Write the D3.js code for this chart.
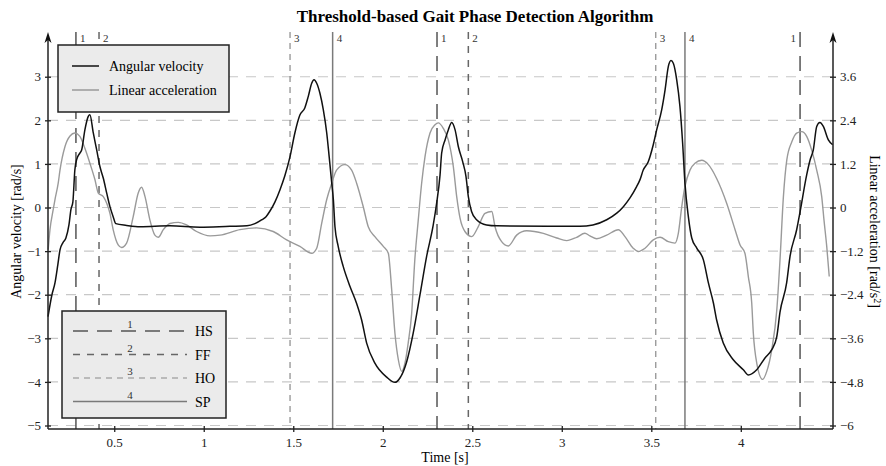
<!DOCTYPE html>
<html>
<head>
<meta charset="utf-8">
<script src="https://cdn.jsdelivr.net/npm/d3@7"></script>
<style>
  body { margin: 0; background: #fff; }
  svg { font-family: "Liberation Serif", "DejaVu Serif", serif; }
</style>
</head>
<body>
<svg id="chart" width="886" height="466"></svg>
<script>
// angular velocity [rad/s]: [time, value]
var angVel = [
  [0.13,-2.5],[0.152,-2.0],[0.169,-1.73],[0.185,-1.31],[0.197,-0.97],[0.213,-0.81],[0.23,-0.7],
  [0.247,-0.4],[0.258,-0.05],[0.269,0.13],[0.28,0.86],[0.29,1.1],[0.308,1.25],[0.318,1.32],
  [0.336,1.78],[0.355,2.09],[0.364,2.13],[0.383,1.71],[0.402,1.32],[0.42,0.94],[0.439,0.67],
  [0.458,0.33],[0.476,0.02],[0.494,-0.21],[0.509,-0.37],[0.569,-0.41],[0.644,-0.44],[0.811,-0.42],
  [0.979,-0.45],[1.146,-0.43],[1.241,-0.42],[1.286,-0.37],[1.325,-0.28],[1.348,-0.21],[1.37,-0.08],
  [1.398,0.13],[1.426,0.41],[1.453,0.73],[1.481,1.15],[1.509,1.71],[1.537,2.12],[1.565,2.29],
  [1.584,2.55],[1.603,2.85],[1.616,2.93],[1.631,2.85],[1.649,2.62],[1.668,2.24],[1.687,1.71],
  [1.701,1.15],[1.715,0.56],[1.724,0.18],[1.733,-0.44],[1.751,-0.89],[1.779,-1.35],[1.817,-1.81],
  [1.854,-2.2],[1.882,-2.58],[1.91,-3.11],[1.956,-3.57],[2.022,-3.89],[2.068,-4.01],[2.096,-3.91],
  [2.134,-3.53],[2.17,-2.88],[2.208,-2.0],[2.245,-1.12],[2.282,-0.4],[2.301,0.1],[2.32,0.75],
  [2.329,1.25],[2.348,1.55],[2.366,1.78],[2.385,1.95],[2.404,1.78],[2.422,1.4],[2.446,1.06],
  [2.465,0.71],[2.478,0.25],[2.496,-0.09],[2.524,-0.28],[2.58,-0.4],[2.636,-0.42],[3.1,-0.43],
  [3.174,-0.4],[3.251,-0.28],[3.307,-0.13],[3.344,0.02],[3.381,0.22],[3.418,0.48],[3.437,0.64],
  [3.455,0.86],[3.483,1.05],[3.511,1.44],[3.53,1.78],[3.558,2.24],[3.577,2.7],[3.595,3.23],
  [3.61,3.37],[3.623,3.31],[3.642,2.93],[3.66,2.32],[3.675,1.48],[3.688,0.56],[3.707,-0.21],
  [3.726,-0.7],[3.754,-0.93],[3.791,-1.2],[3.819,-1.73],[3.847,-2.19],[3.865,-2.58],[3.902,-3.11],
  [3.958,-3.49],[4.014,-3.72],[4.042,-3.84],[4.089,-3.72],[4.135,-3.45],[4.173,-3.26],[4.201,-2.96],
  [4.219,-2.4],[4.256,-1.73],[4.275,-1.12],[4.312,-0.51],[4.331,-0.1],[4.368,0.75],[4.387,1.09],
  [4.405,1.32],[4.424,1.86],[4.442,1.95],[4.461,1.86],[4.489,1.55],[4.513,1.44]
];

// linear acceleration [rad/s^2] (right axis): [time, value]
var linAcc = [
  [0.131,-1.16],[0.141,-0.61],[0.159,-0.06],[0.169,0.22],[0.187,0.67],[0.197,1.03],[0.225,1.68],
  [0.253,1.97],[0.28,2.05],[0.308,1.96],[0.336,1.63],[0.364,1.22],[0.392,0.77],[0.411,0.4],
  [0.439,0.3],[0.458,0.12],[0.476,-0.16],[0.494,-0.61],[0.522,-1.03],[0.541,-1.1],[0.569,-0.98],
  [0.606,-0.25],[0.634,0.4],[0.653,0.56],[0.672,0.3],[0.699,-0.34],[0.727,-0.76],[0.746,-0.82],
  [0.774,-0.61],[0.811,-0.44],[0.858,-0.41],[0.904,-0.48],[0.96,-0.66],[1.035,-0.78],[1.091,-0.76],
  [1.202,-0.61],[1.296,-0.56],[1.388,-0.66],[1.463,-0.89],[1.537,-1.07],[1.603,-1.26],[1.631,-1.12],
  [1.659,-0.43],[1.687,0.22],[1.715,0.67],[1.742,1.03],[1.788,1.18],[1.826,1.03],[1.854,0.67],
  [1.891,0.02],[1.919,-0.53],[1.956,-0.8],[2.003,-1.07],[2.031,-1.26],[2.05,-2.27],[2.068,-3.46],
  [2.087,-4.19],[2.106,-4.51],[2.124,-4.28],[2.142,-3.73],[2.161,-2.94],[2.179,-1.44],[2.198,-0.36],
  [2.217,0.66],[2.236,1.4],[2.264,2.05],[2.292,2.28],[2.31,2.33],[2.338,2.18],[2.366,1.86],
  [2.394,1.13],[2.413,0.3],[2.432,-0.3],[2.459,-0.66],[2.497,-0.8],[2.533,-0.53],[2.571,-0.16],
  [2.609,-0.11],[2.627,-0.53],[2.664,-0.94],[2.701,-1.06],[2.748,-0.76],[2.804,-0.64],[2.897,-0.71],
  [2.972,-0.84],[3.027,-0.91],[3.083,-0.82],[3.129,-0.71],[3.157,-0.78],[3.195,-0.86],[3.251,-0.76],
  [3.316,-0.61],[3.353,-0.8],[3.399,-1.12],[3.427,-1.21],[3.465,-1.12],[3.511,-0.89],[3.549,-0.82],
  [3.595,-0.94],[3.632,-0.98],[3.651,-0.71],[3.67,0.02],[3.688,0.58],[3.716,1.03],[3.744,1.22],
  [3.782,1.3],[3.819,1.18],[3.865,0.8],[3.921,0.12],[3.968,-0.61],[3.996,-1.03],[4.023,-1.26],
  [4.042,-1.9],[4.061,-2.63],[4.07,-3.46],[4.089,-4.28],[4.122,-4.73],[4.145,-4.51],[4.173,-3.91],
  [4.201,-2.82],[4.219,-1.44],[4.238,0.3],[4.257,1.31],[4.285,1.81],[4.312,2.05],[4.34,2.09],
  [4.368,1.96],[4.396,1.58],[4.424,1.03],[4.452,0.3],[4.465,-0.36],[4.48,-1.07],[4.494,-1.9]
];

// detected gait events: time [s] and phase number (1 HS, 2 FF, 3 HO, 4 SP)
var eventTimes = [0.286, 0.415, 1.482, 1.72, 2.303, 2.478, 3.525, 3.688, 4.331];
var eventTypes = [1, 2, 3, 4, 1, 2, 3, 4, 1];

var xTicks = [0.5, 1, 1.5, 2, 2.5, 3, 3.5, 4];
var yTicks = [-5, -4, -3, -2, -1, 0, 1, 2, 3];
var y2Ticks = [-6, -4.8, -3.6, -2.4, -1.2, 0, 1.2, 2.4, 3.6];

var phaseNames = ["HS", "FF", "HO", "SP"];
var phaseStyle = {
  1: {dash: "15,9", color: "#555", w: 1.5},
  2: {dash: "7,7", color: "#666", w: 1.5},
  3: {dash: "6,5", color: "#8a8a8a", w: 1.2},
  4: {dash: null, color: "#7a7a7a", w: 1.5}
};

var pL = 48, pR = 833, pT = 34, pB = 429;
var svg = d3.select("#chart");

var x = d3.scaleLinear().domain([0.13, 4.515]).range([pL, pR]);
var y = d3.scaleLinear().domain([-5.08, 3.98]).range([pB, pT]);
var y2 = d3.scaleLinear().domain([-5.08 * 1.2, 3.98 * 1.2]).range([pB, pT]);

// grid
svg.append("g").selectAll("line")
  .data(yTicks)
  .enter().append("line")
    .attr("x1", pL).attr("x2", pR)
    .attr("y1", function(d) { return y(d); })
    .attr("y2", function(d) { return y(d); })
    .attr("stroke", "#c8c8c8")
    .attr("stroke-width", 1.2)
    .attr("stroke-dasharray", "10,8");

// event lines
var ev = svg.append("g").selectAll("g")
  .data(eventTimes)
  .enter().append("g");
ev.append("line")
  .attr("x1", function(d) { return x(d); })
  .attr("x2", function(d) { return x(d); })
  .attr("y1", 32).attr("y2", pB)
  .attr("stroke", function(d, i) { return phaseStyle[eventTypes[i]].color; })
  .attr("stroke-width", function(d, i) { return phaseStyle[eventTypes[i]].w; })
  .attr("stroke-dasharray", function(d, i) { return phaseStyle[eventTypes[i]].dash; });
ev.append("text")
  .attr("x", function(d, i) { return i == eventTimes.length - 1 ? x(d) - 4 : x(d) + 4; })
  .attr("y", 42)
  .attr("text-anchor", function(d, i) { return i == eventTimes.length - 1 ? "end" : "start"; })
  .attr("font-size", 11)
  .attr("fill", "#333")
  .text(function(d, i) { return eventTypes[i]; });

// curves
var line1 = d3.line()
  .x(function(d) { return x(d[0]); })
  .y(function(d) { return y(d[1]); })
  .curve(d3.curveMonotoneX);
var line2 = d3.line()
  .x(function(d) { return x(d[0]); })
  .y(function(d) { return y2(d[1]); })
  .curve(d3.curveMonotoneX);

svg.append("path")
  .datum(linAcc)
  .attr("fill", "none")
  .attr("stroke", "#9a9a9a")
  .attr("stroke-width", 1.4)
  .attr("d", line2);
svg.append("path")
  .datum(angVel)
  .attr("fill", "none")
  .attr("stroke", "#111")
  .attr("stroke-width", 1.5)
  .attr("d", line1);

// axes
function crossTicks(g) {
  g.select(".domain").remove();
  g.selectAll(".tick line").attr("stroke", "#222").attr("stroke-width", 1.3);
}
var xAxis = svg.append("g")
  .attr("transform", "translate(0," + pB + ")")
  .call(d3.axisBottom(x).tickValues(xTicks).tickSize(3).tickPadding(6).tickFormat(d3.format("")))
  .call(crossTicks);
xAxis.selectAll(".tick line").attr("y1", -3);
xAxis.selectAll("text").attr("font-size", 13).attr("font-family", "Liberation Serif").attr("fill", "#222");

var yAxis = svg.append("g")
  .attr("transform", "translate(" + pL + ",0)")
  .call(d3.axisLeft(y).tickValues(yTicks).tickSize(3).tickPadding(4).tickFormat(d3.format("")))
  .call(crossTicks);
yAxis.selectAll(".tick line").attr("x1", 3);
yAxis.selectAll("text").attr("font-size", 13).attr("font-family", "Liberation Serif").attr("fill", "#222");

var y2Axis = svg.append("g")
  .attr("transform", "translate(" + pR + ",0)")
  .call(d3.axisRight(y2).tickValues(y2Ticks).tickSize(3).tickPadding(4).tickFormat(d3.format("")))
  .call(crossTicks);
y2Axis.selectAll(".tick line").attr("x1", -3);
y2Axis.selectAll("text").attr("font-size", 13).attr("font-family", "Liberation Serif").attr("fill", "#222");

// axis lines with arrows
svg.append("line").attr("x1", pL).attr("x2", pR).attr("y1", pB).attr("y2", pB)
  .attr("stroke", "#222").attr("stroke-width", 1.5);
[pL, pR].forEach(function(ax) {
  svg.append("line").attr("x1", ax).attr("x2", ax).attr("y1", pB).attr("y2", pT + 4)
    .attr("stroke", "#222").attr("stroke-width", 1.5);
  svg.append("path")
    .attr("d", "M" + ax + "," + (pT - 2) + " L" + (ax + 3.5) + "," + (pT + 9) +
      " L" + ax + "," + (pT + 6) + " L" + (ax - 3.5) + "," + (pT + 9) + " Z")
    .attr("fill", "#111");
});

// titles
svg.append("text")
  .attr("x", 475).attr("y", 22)
  .attr("text-anchor", "middle")
  .attr("font-size", 17).attr("font-weight", "bold")
  .text("Threshold-based Gait Phase Detection Algorithm");
svg.append("text")
  .attr("x", 445).attr("y", 462)
  .attr("text-anchor", "middle")
  .attr("font-size", 14)
  .text("Time [s]");
svg.append("text")
  .attr("transform", "translate(21," + ((pT + pB) / 2) + ") rotate(-90)")
  .attr("text-anchor", "middle")
  .attr("font-size", 14)
  .text("Angular velocity [rad/s]");
var rt = svg.append("text")
  .attr("transform", "translate(870," + ((pT + pB) / 2) + ") rotate(90)")
  .attr("text-anchor", "middle")
  .attr("font-size", 14);
rt.append("tspan").text("Linear acceleration [rad/s");
rt.append("tspan").attr("dy", -4).attr("font-size", 10).text("2");
rt.append("tspan").attr("dy", 4).text("]");

// legend for signals
var lg = svg.append("g");
lg.append("rect").attr("x", 58).attr("y", 45).attr("width", 171).attr("height", 67)
  .attr("fill", "#ebebeb").attr("stroke", "#222").attr("stroke-width", 1.5);
var sigNames = ["Angular velocity", "Linear acceleration"];
var sigColors = ["#111", "#9a9a9a"];
sigNames.forEach(function(n, i) {
  var yy = 66 + i * 24;
  lg.append("line").attr("x1", 72).attr("x2", 99).attr("y1", yy).attr("y2", yy)
    .attr("stroke", sigColors[i]).attr("stroke-width", 1.5);
  lg.append("text").attr("x", 109).attr("y", yy + 5).attr("font-size", 14).text(n);
});

// legend for phases
var lp = svg.append("g");
lp.append("rect").attr("x", 62).attr("y", 311).attr("width", 164).attr("height", 107)
  .attr("fill", "#ebebeb").attr("stroke", "#222").attr("stroke-width", 1.5);
phaseNames.forEach(function(n, i) {
  var yy = 331 + i * 23.5;
  var s = phaseStyle[i + 1];
  lp.append("line").attr("x1", 73).attr("x2", 187).attr("y1", yy).attr("y2", yy)
    .attr("stroke", s.color).attr("stroke-width", s.w).attr("stroke-dasharray", s.dash);
  lp.append("text").attr("x", 130).attr("y", yy - 3).attr("text-anchor", "middle")
    .attr("font-size", 11).attr("fill", "#333").text(i + 1);
  lp.append("text").attr("x", 195).attr("y", yy + 5).attr("font-size", 14).text(n);
});
</script>
</body>
</html>
